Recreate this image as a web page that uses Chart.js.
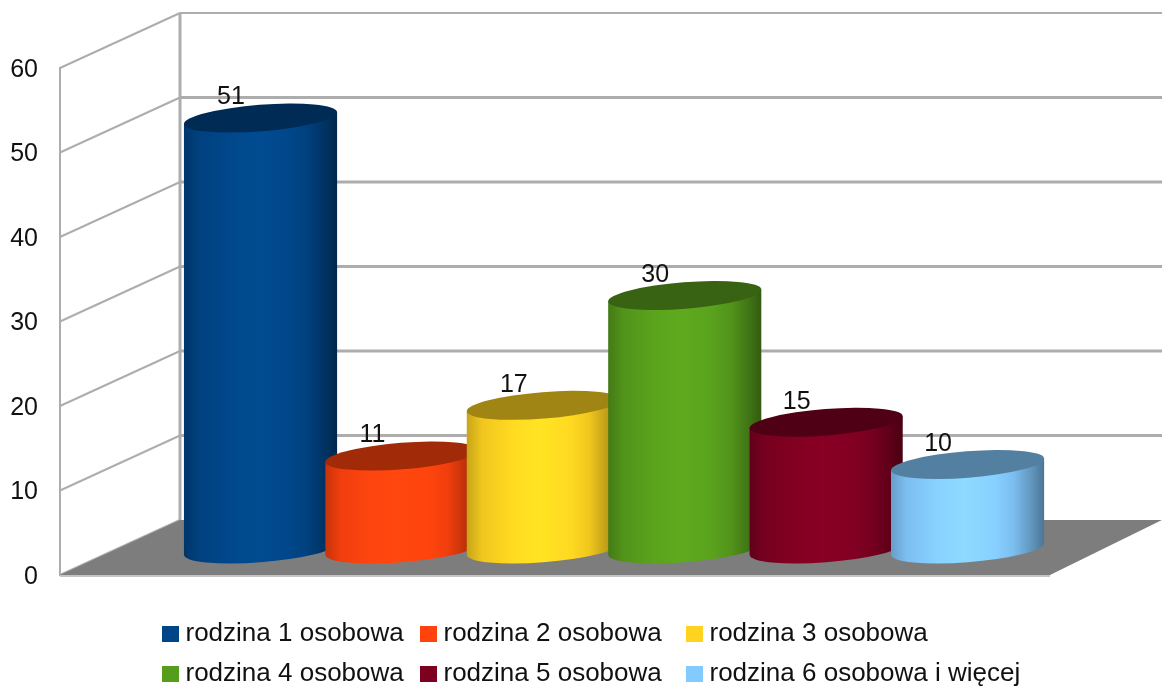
<!DOCTYPE html>
<html>
<head>
<meta charset="utf-8">
<style>
html,body{margin:0;padding:0;background:#fff;}
canvas{display:block;filter:blur(0.5px);}
</style>
<script src="https://cdn.jsdelivr.net/npm/chart.js@4/dist/chart.umd.js"></script>
</head>
<body>
<canvas id="c" width="1162" height="687"></canvas>
<script>
const seriesNames = ['rodzina 1 osobowa','rodzina 2 osobowa','rodzina 3 osobowa','rodzina 4 osobowa','rodzina 5 osobowa','rodzina 6 osobowa i więcej'];
const seriesValues = [51,11,17,30,15,10];
const seriesColors = ['#004586','#ff420e','#ffd320','#579d1c','#7e0021','#83caff'];
const yTicks = [0,10,20,30,40,50,60];

const FONT = '"Liberation Sans", Arial, sans-serif';
const TEXT = '#111111';
const GRID = '#adadad';
const DEPTH_X = 120, DEPTH_Y = 55, WALL_RIGHT = 1162;
const ROT = -4.5 * Math.PI / 180, RX = 76.8, RY = 13.2;

function shade(hex, f){
  const n = parseInt(hex.slice(1),16);
  const c = [n>>16&255, n>>8&255, n&255].map(v=>Math.min(255,Math.round(v*f)));
  return 'rgb('+c.join(',')+')';
}

// Draw each bar as a cylinder, from the geometry the bar controller computed
Chart.BarElement.prototype.draw = function(ctx){
  const {x,y,base} = this.getProps(['x','y','base']);
  const col = this.options.backgroundColor;
  const t = Math.atan(-(RY/RX)*Math.tan(ROT));
  const dx = RX*Math.cos(t)*Math.cos(ROT) - RY*Math.sin(t)*Math.sin(ROT);
  const dy = RX*Math.cos(t)*Math.sin(ROT) + RY*Math.sin(t)*Math.cos(ROT);
  const g = ctx.createLinearGradient(x-dx,0,x+dx,0);
  [[0,.78],[.1,.94],[.3,1.04],[.48,1.08],[.68,1.03],[.8,.94],[.92,.74],[1,.58]]
    .forEach(s=>g.addColorStop(s[0],shade(col,s[1])));
  ctx.save();
  ctx.fillStyle = g;
  ctx.beginPath();
  ctx.moveTo(x-dx,y-dy);
  ctx.lineTo(x+dx,y+dy);
  ctx.lineTo(x+dx,base+dy);
  ctx.ellipse(x,base,RX,RY,ROT,t,t+Math.PI,false);
  ctx.lineTo(x-dx,y-dy);
  ctx.closePath();
  ctx.fill();
  ctx.fillStyle = shade(col,.63);
  ctx.beginPath();
  ctx.ellipse(x,y,RX,RY,ROT,0,Math.PI*2);
  ctx.fill();
  ctx.restore();
};

const wallsPlugin = {
  id:'walls',
  beforeDatasetsDraw(chart){
    const {ctx} = chart, s = chart.scales.y, L = s.right, R = chart.chartArea.right;
    const y0 = s.getPixelForValue(0), yTop = s.getPixelForValue(60);
    const bx = L+DEPTH_X;
    ctx.save();
    ctx.strokeStyle = GRID;
    yTicks.forEach(v=>{
      const py = s.getPixelForValue(v);
      ctx.lineWidth = 2;
      ctx.beginPath(); ctx.moveTo(L,py); ctx.lineTo(bx,py-DEPTH_Y); ctx.stroke();
      if(v>0){
        ctx.lineWidth = v===60 ? 2 : 3;
        ctx.beginPath(); ctx.moveTo(bx,py-DEPTH_Y); ctx.lineTo(WALL_RIGHT,py-DEPTH_Y); ctx.stroke();
      }
    });
    ctx.lineWidth = 3;
    ctx.beginPath(); ctx.moveTo(bx,yTop-DEPTH_Y); ctx.lineTo(bx,y0-DEPTH_Y); ctx.stroke();
    ctx.fillStyle = '#7d7d7d';
    ctx.beginPath();
    ctx.moveTo(L,y0); ctx.lineTo(bx,y0-DEPTH_Y); ctx.lineTo(WALL_RIGHT,y0-DEPTH_Y); ctx.lineTo(R,y0);
    ctx.closePath(); ctx.fill();
    ctx.strokeStyle = '#c4c4c4';
    ctx.lineWidth = 2;
    ctx.beginPath(); ctx.moveTo(L,y0+1); ctx.lineTo(R,y0+1); ctx.stroke();
    ctx.restore();
  }
};

const labelsPlugin = {
  id:'valueLabels',
  afterDatasetsDraw(chart){
    const {ctx} = chart;
    ctx.save();
    ctx.font = '25px '+FONT;
    ctx.fillStyle = TEXT;
    ctx.textAlign = 'center';
    ctx.textBaseline = 'middle';
    chart.data.datasets.forEach((d,i)=>{
      const el = chart.getDatasetMeta(i).data[0];
      ctx.fillText(String(d.data[0].y), el.x-29.5, el.y-20.5);
    });
    ctx.restore();
  }
};

const legendCols = [162,420,686], legendRows = [634,674];
const legendPlugin = {
  id:'sideLegend',
  afterDraw(chart){
    const {ctx} = chart;
    ctx.save();
    ctx.font = '26px '+FONT;
    ctx.textBaseline = 'middle';
    chart.data.datasets.forEach((d,i)=>{
      const x = legendCols[i%3], y = legendRows[Math.floor(i/3)];
      ctx.fillStyle = d.backgroundColor;
      ctx.fillRect(x,y-8,17,16);
      ctx.fillStyle = TEXT;
      ctx.fillText(d.label, x+23.5, y);
    });
    ctx.restore();
  }
};

new Chart(document.getElementById('c'),{
  type:'bar',
  data:{
    datasets:seriesNames.map((name,i)=>({
      label:name,
      data:[{x:i+1,y:seriesValues[i]}],
      backgroundColor:seriesColors[i],
      order:-i,
      xAxisID:'x',
      yAxisID:'yBars',
      barThickness:153,
      grouped:false
    }))
  },
  options:{
    responsive:false,
    animation:false,
    layout:{padding:{top:68,bottom:112,left:0,right:112}},
    plugins:{legend:{display:false},tooltip:{enabled:false}},
    scales:{
      x:{type:'linear',display:false,offset:false,min:-0.418,max:6.583},
      y:{
        type:'linear',position:'left',min:0,max:60,
        afterFit(scale){scale.width=60;},
        afterBuildTicks(scale){scale.ticks=yTicks.map(v=>({value:v}));},
        grid:{display:false,drawTicks:false},
        border:{display:true,color:GRID,width:2},
        ticks:{font:{family:FONT,size:25},color:TEXT,padding:22,labelOffset:2}
      },
      yBars:{type:'linear',position:'left',display:false,min:-3.08,max:56.92}
    }
  },
  plugins:[wallsPlugin,labelsPlugin,legendPlugin]
});
</script>
</body>
</html>
